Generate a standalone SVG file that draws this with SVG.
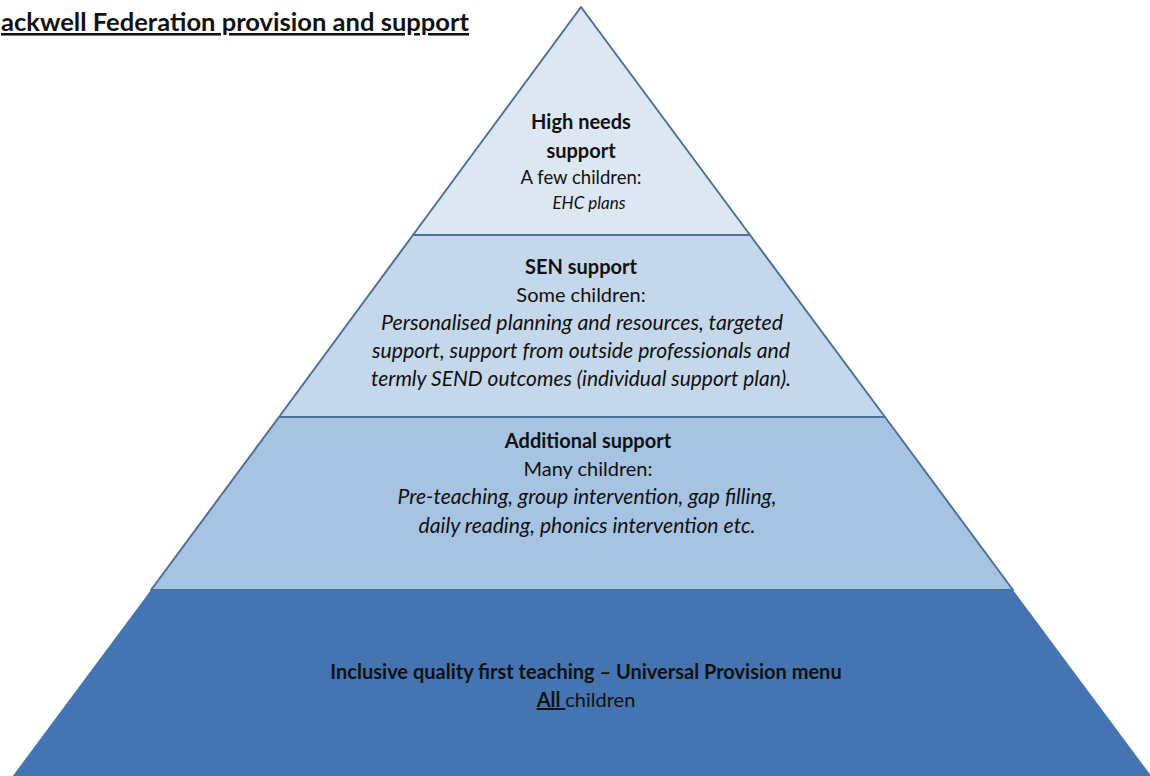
<svg xmlns="http://www.w3.org/2000/svg" width="1150" height="776" viewBox="0 0 1150 776">
<style>
.t{font-family:Lato,"Liberation Sans",sans-serif;font-size:20px;fill:#111;text-anchor:middle}
.b{font-weight:bold}
.i{font-style:italic;font-size:21px}
.tier{stroke:#4d719b;stroke-width:2;stroke-linejoin:round}
</style>
<rect width="1150" height="776" fill="#fff"/>
<text x="1" y="31" textLength="468" lengthAdjust="spacingAndGlyphs" style="font-family:Lato,'Liberation Sans',sans-serif;font-size:25.5px;font-weight:bold;fill:#111;text-decoration:underline">ackwell Federation provision and support</text>
<g id="tier-high">
<polygon class="tier" points="581,7 750,235 413,235" fill="#dde7f2"/>
<text class="t b" x="581" y="129">High needs</text>
<text class="t b" x="581" y="158">support</text>
<text class="t" x="581" y="184" style="font-size:18.5px">A few children:</text>
<text class="t i" x="589" y="209" style="font-size:17px">EHC plans</text>
</g>
<g id="tier-sen">
<polygon class="tier" points="413,235 750,235 885,417 279,417" fill="#c5d7ea"/>
<text class="t b" x="581" y="274">SEN support</text>
<text class="t" x="581" y="302">Some children:</text>
<text class="t i" x="582" y="330" textLength="402" lengthAdjust="spacingAndGlyphs">Personalised planning and resources, targeted</text>
<text class="t i" x="581" y="358" textLength="418" lengthAdjust="spacingAndGlyphs">support, support from outside professionals and</text>
<text class="t i" x="581" y="386" textLength="420" lengthAdjust="spacingAndGlyphs">termly SEND outcomes (individual support plan).</text>
</g>
<g id="tier-additional">
<polygon class="tier" points="279,417 885,417 1013,590 151,590" fill="#a6c3e1"/>
<text class="t b" x="588" y="448">Additional support</text>
<text class="t" x="588" y="476">Many children:</text>
<text class="t i" x="587" y="504" textLength="379" lengthAdjust="spacingAndGlyphs">Pre-teaching, group intervention, gap filling,</text>
<text class="t i" x="587" y="533" textLength="337" lengthAdjust="spacingAndGlyphs">daily reading, phonics intervention etc.</text>
</g>
<g id="tier-universal">
<polygon points="151,590 1013,590 1152,777 12,777" fill="#4474b1"/>
<line class="tier" x1="151" y1="590" x2="1013" y2="590"/>
<text class="t b" x="586" y="679">Inclusive quality first teaching – Universal Provision menu</text>
<text class="t" x="586" y="707"><tspan class="b" text-decoration="underline">All </tspan>children</text>
</g>
</svg>
